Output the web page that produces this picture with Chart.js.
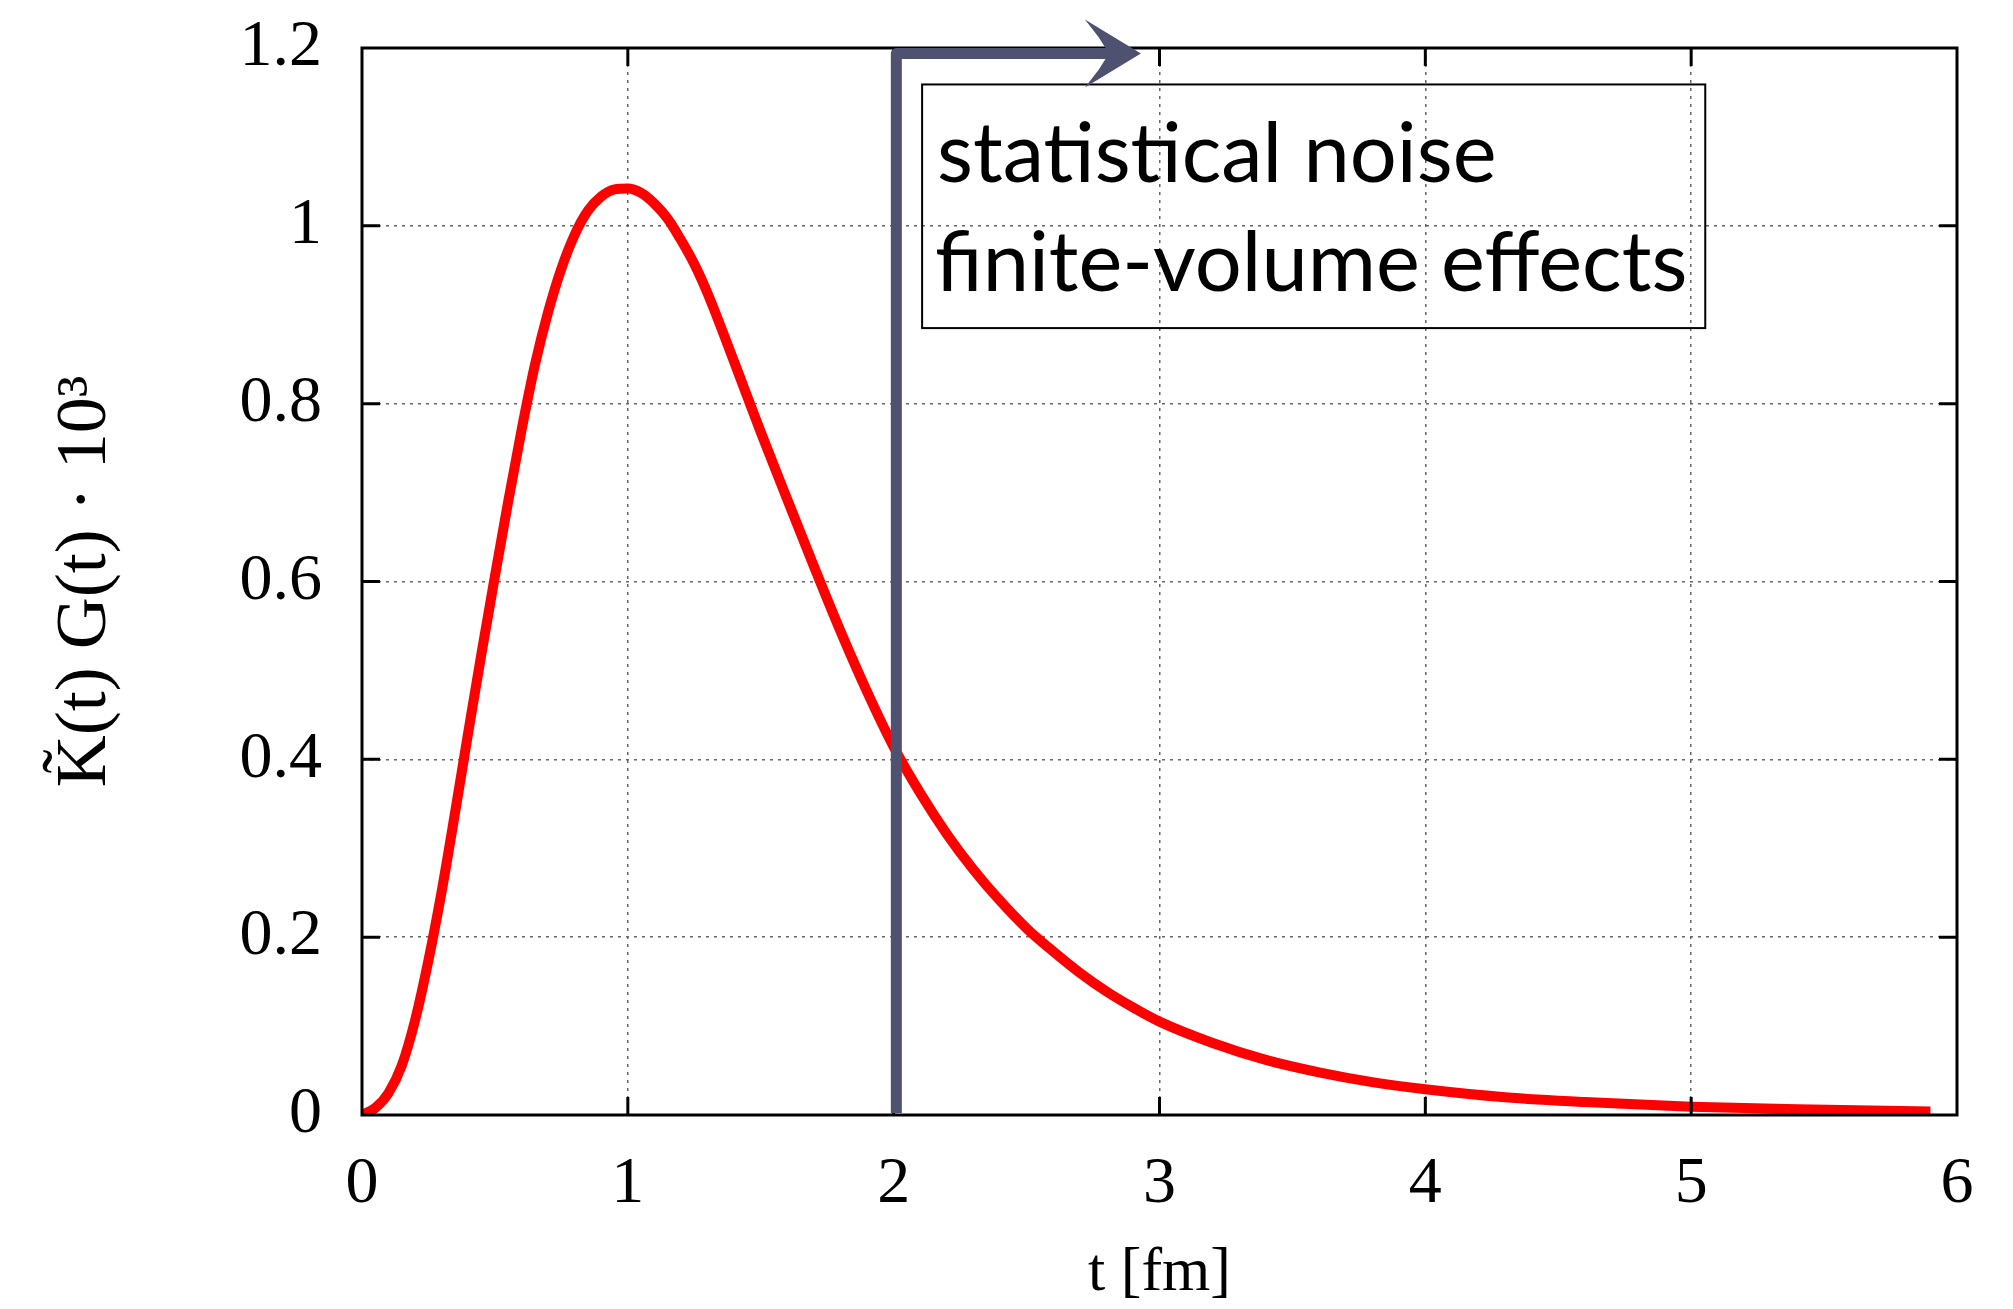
<!DOCTYPE html>
<html>
<head>
<meta charset="utf-8">
<script src="https://cdn.jsdelivr.net/npm/chart.js@4.4.1/dist/chart.umd.min.js"></script>
<style>
  html, body { margin: 0; padding: 0; background: #ffffff; }
  #wrap { width: 2013px; height: 1309px; position: relative; }
</style>
</head>
<body>
<div id="wrap"><canvas id="c"></canvas></div>
<script>
// ---- data ----
const tValues = [0, 0.05, 0.1, 0.15, 0.2, 0.25, 0.3, 0.35, 0.4, 0.45, 0.5, 0.55, 0.6, 0.65, 0.7, 0.75, 0.8, 0.85, 0.9, 0.95,
  1.0, 1.05, 1.1, 1.15, 1.2, 1.25, 1.3, 1.4, 1.5, 1.6, 1.7, 1.8, 1.9, 2.0, 2.1, 2.2, 2.3, 2.4, 2.5, 2.6, 2.7, 2.8, 2.9,
  3.0, 3.2, 3.4, 3.6, 3.8, 4.0, 4.3, 4.6, 5.0, 5.4, 5.9];
const kgValues = [0, 0.008, 0.025, 0.056, 0.107, 0.174, 0.252, 0.340, 0.431, 0.520, 0.606, 0.690, 0.770, 0.843, 0.903, 0.952, 0.990, 1.017, 1.033, 1.041,
  1.042, 1.037, 1.025, 1.008, 0.984, 0.957, 0.924, 0.847, 0.768, 0.692, 0.617, 0.544, 0.476, 0.414, 0.362, 0.316, 0.276, 0.241, 0.210, 0.184, 0.160, 0.139, 0.121,
  0.105, 0.081, 0.062, 0.048, 0.037, 0.029, 0.020, 0.0145, 0.0094, 0.0064, 0.004];
const xTickLabels = ['0', '1', '2', '3', '4', '5', '6'];
const yTickLabels = ['0', '0.2', '0.4', '0.6', '0.8', '1', '1.2'];
const xAxisTitle = 't [fm]';
const yAxisTitle = 'K\u0303(t) G(t) \u00B7 10\u00B3';
const noteLines = ['statistical noise', 'finite-volume effects'];
// annotation anchors (in data units)
const noiseStartT = 2.01;
const arrowEndT = 2.93;
const noteBox = { t0: 2.107, t1: 5.053, v0: 0.885, v1: 1.159 };

const points = tValues.map((t, i) => ({ x: t, y: kgValues[i] }));

const frameAndTicks = {
  id: 'frameAndTicks',
  afterDatasetsDraw(chart) {
    const { ctx, chartArea: a, scales: { x, y } } = chart;
    ctx.save();
    // note box
    const bx0 = x.getPixelForValue(noteBox.t0), bx1 = x.getPixelForValue(noteBox.t1);
    const by0 = y.getPixelForValue(noteBox.v1), by1 = y.getPixelForValue(noteBox.v0);
    ctx.strokeStyle = '#000';
    ctx.lineWidth = 2;
    ctx.strokeRect(bx0, by0, bx1 - bx0, by1 - by0);
    // note text
    ctx.font = '83px Lato, "Open Sans", sans-serif';
    ctx.fillStyle = '#000';
    ctx.textBaseline = 'alphabetic';
    ctx.textAlign = 'left';
    ctx.fillText(noteLines[0], bx0 + 15, by0 + 98);
    ctx.fillText(noteLines[1], bx0 + 13, by0 + 207);

    // frame
    ctx.lineWidth = 3;
    ctx.strokeStyle = '#000';
    ctx.strokeRect(a.left, a.top, a.right - a.left, a.bottom - a.top);
    // inward ticks
    const tl = 18;
    ctx.lineWidth = 3;
    ctx.beginPath();
    x.ticks.forEach((tk) => {
      if (tk.value <= x.min || tk.value >= x.max) return;
      const px = x.getPixelForValue(tk.value);
      ctx.moveTo(px, a.bottom); ctx.lineTo(px, a.bottom - tl);
      ctx.moveTo(px, a.top); ctx.lineTo(px, a.top + tl);
    });
    y.ticks.forEach((tk) => {
      if (tk.value <= y.min + 1e-9 || tk.value >= y.max - 1e-9) return;
      const py = y.getPixelForValue(tk.value);
      ctx.moveTo(a.left, py); ctx.lineTo(a.left + tl, py);
      ctx.moveTo(a.right, py); ctx.lineTo(a.right - tl, py);
    });
    ctx.stroke();

    // arrow
    const ax = x.getPixelForValue(noiseStartT);
    const ay = a.top + 5.5;
    const tipX = x.getPixelForValue(arrowEndT);
    ctx.strokeStyle = '#4e5270';
    ctx.fillStyle = '#4e5270';
    ctx.lineWidth = 11;
    ctx.lineJoin = 'round';
    ctx.beginPath();
    ctx.moveTo(ax, a.bottom - 2);
    ctx.lineTo(ax, ay);
    ctx.lineTo(tipX - 30, ay);
    ctx.stroke();
    ctx.beginPath();
    ctx.moveTo(tipX, ay);
    ctx.lineTo(tipX - 56, ay - 34);
    ctx.lineTo(tipX - 42, ay - 16);
    ctx.lineTo(tipX - 32, ay);
    ctx.lineTo(tipX - 42, ay + 16);
    ctx.lineTo(tipX - 56, ay + 34);
    ctx.closePath();
    ctx.fill();
    ctx.restore();
  }
};

new Chart(document.getElementById('c'), {
  type: 'scatter',
  data: {
    datasets: [{
      data: points,
      showLine: true,
      borderColor: '#ff0000',
      borderWidth: 10,
      pointRadius: 0,
      cubicInterpolationMode: 'monotone',
      fill: false
    }]
  },
  options: {
    responsive: true,
    maintainAspectRatio: false,
    animation: false,
    events: [],
    layout: { padding: { top: 48, right: 56, left: 0, bottom: 0 } },
    plugins: { legend: { display: false }, tooltip: { enabled: false } },
    scales: {
      x: {
        type: 'linear', min: 0, max: 6,
        afterFit: (s) => { s.height = 194; s.paddingLeft = 0; s.paddingRight = 0; },
        border: { display: false, dash: [3, 5] },
        grid: { color: '#666666', lineWidth: 1.5, drawTicks: false },
        ticks: {
          stepSize: 1, autoSkip: false, maxRotation: 0, padding: 30, color: '#000',
          font: { family: '"Liberation Serif", serif', size: 66 },
          callback: (v, i) => xTickLabels[i]
        },
        title: {
          display: true, text: xAxisTitle, color: '#000',
          font: { family: '"Liberation Serif", serif', size: 62, lineHeight: 1 },
          padding: { top: 0, bottom: 4 }
        }
      },
      y: {
        type: 'linear', min: 0, max: 1.2,
        afterFit: (s) => { s.width = 362; s.paddingTop = 0; s.paddingBottom = 0; },
        border: { display: false, dash: [3, 5] },
        grid: { color: '#666666', lineWidth: 1.5, drawTicks: false },
        ticks: {
          stepSize: 0.2, autoSkip: false, padding: 40, color: '#000',
          font: { family: '"Liberation Serif", serif', size: 66 },
          callback: (v, i) => yTickLabels[i]
        },
        title: {
          display: true, text: yAxisTitle, color: '#000',
          font: { family: '"Liberation Serif", serif', size: 72, lineHeight: 1 },
          padding: { top: 50, bottom: 0 }
        }
      }
    }
  },
  plugins: [frameAndTicks]
});
</script>
</body>
</html>
